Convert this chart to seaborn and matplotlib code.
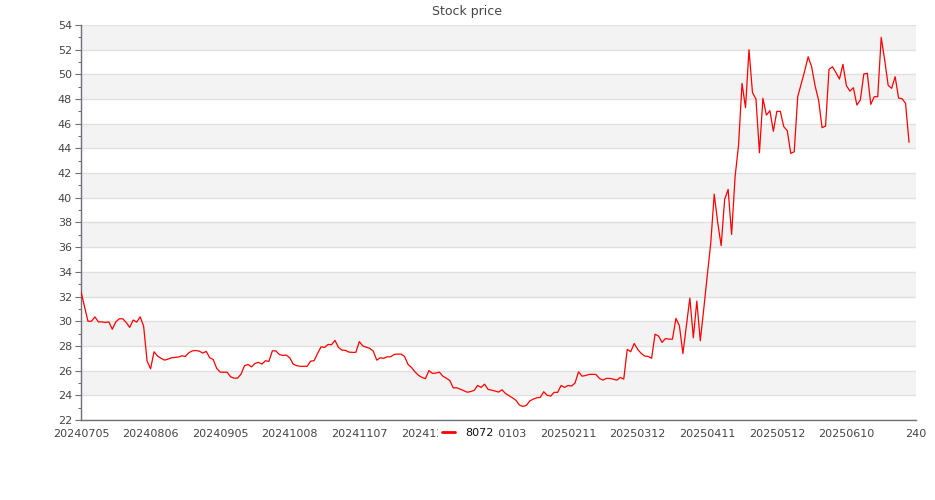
import matplotlib
matplotlib.use('Agg')
import matplotlib.pyplot as plt
import pandas as pd
import seaborn as sns
from matplotlib.ticker import MultipleLocator

title = 'Stock price'
series_name = '8072'

prices = [
    32.4, 31.2, 30.0, 30.0, 30.35, 29.95, 29.95, 29.9, 29.95, 29.35,
    29.95, 30.2, 30.2, 29.9, 29.5, 30.1, 29.93, 30.36, 29.6, 26.77,
    26.15, 27.53, 27.18, 27.0, 26.85, 26.93, 27.04, 27.07, 27.1, 27.2,
    27.15, 27.45, 27.6, 27.63, 27.58, 27.42, 27.56, 27.04, 26.9, 26.18,
    25.88, 25.87, 25.87, 25.5, 25.39, 25.39, 25.72, 26.4, 26.5, 26.3,
    26.58, 26.67, 26.53, 26.8, 26.75, 27.6, 27.6, 27.31, 27.23, 27.26,
    27.04, 26.53, 26.4, 26.35, 26.35, 26.35, 26.77, 26.8, 27.4, 27.93,
    27.88, 28.12, 28.1, 28.45, 27.88, 27.66, 27.64, 27.5, 27.48, 27.48,
    28.35, 28.0, 27.9, 27.8, 27.58, 26.85, 27.04, 27.0, 27.12, 27.12,
    27.31, 27.34, 27.34, 27.15, 26.5, 26.25, 25.9, 25.62, 25.45, 25.35,
    26.0, 25.78, 25.8, 25.88, 25.55, 25.39, 25.2, 24.6, 24.61, 24.5,
    24.38, 24.25, 24.3, 24.4, 24.8, 24.64, 24.9, 24.48, 24.42, 24.35,
    24.26, 24.45, 24.15, 23.98, 23.8, 23.6, 23.22, 23.1, 23.18, 23.55,
    23.69, 23.8, 23.83, 24.29, 24.0, 23.94, 24.24, 24.24, 24.8, 24.64,
    24.8, 24.75, 25.0, 25.9, 25.55, 25.6, 25.69, 25.7, 25.69, 25.37,
    25.23, 25.37, 25.37, 25.31, 25.23, 25.45, 25.31, 27.72, 27.53, 28.2,
    27.72, 27.4, 27.18, 27.15, 27.0, 28.95, 28.8, 28.29, 28.6, 28.55,
    28.55, 30.23, 29.63, 27.38, 29.61, 31.88, 28.66, 31.63, 28.42, 31.0,
    33.7, 36.3, 40.3, 38.0, 36.12, 39.87, 40.68, 37.03, 41.7, 44.28,
    49.27, 47.3, 52.0, 48.52, 48.0, 43.65, 48.06, 46.7, 47.06, 45.39,
    47.0, 47.0, 45.76, 45.44, 43.6, 43.73, 48.19, 49.22, 50.27, 51.43,
    50.62, 49.06, 47.92, 45.68, 45.81, 50.41, 50.62, 50.14, 49.62, 50.81,
    49.08, 48.65, 48.92, 47.52, 47.92, 50.03, 50.09, 47.57, 48.19, 48.19,
    53.0, 51.16, 49.11, 48.87, 49.81, 48.08, 48.03, 47.65, 44.49,
]

tick_labels = [
    '20240705', '20240806', '20240905', '20241008', '20241107', '20241205',
    '20250103', '20250211', '20250312', '20250411', '20250512', '20250610',
    '240',
]

df = pd.DataFrame({'idx': range(len(prices)), 'price': prices})

sns.set_theme(style='white')
plt.rcParams['font.family'] = ['DejaVu Sans']

fig = plt.figure(figsize=(9.35, 5.0), dpi=100)
ax = fig.add_axes([81 / 935, 80 / 500, 835 / 935, 395 / 500])

# alternating background bands
for lo in range(24, 54, 4):
    ax.axhspan(lo, lo + 2, color='#f3f3f3', lw=0, zorder=0)

sns.lineplot(data=df, x='idx', y='price', color='#ff0000', linewidth=0.9,
             label=series_name, ax=ax, legend=False, zorder=3)

ax.set_xlim(0, 240)
ax.set_ylim(22, 54)
ax.yaxis.set_major_locator(MultipleLocator(2))
ax.yaxis.set_minor_locator(MultipleLocator(1))
ax.set_xticks(range(0, 20 * len(tick_labels), 20))
ax.set_xticklabels(tick_labels)
ax.yaxis.grid(True, color='#e0e0e0', linewidth=1, zorder=1)
ax.xaxis.grid(False)
ax.set_axisbelow(True)
ax.set_xlabel('')
ax.set_ylabel('')

for side in ['top', 'right']:
    ax.spines[side].set_visible(False)
for side in ['left', 'bottom']:
    ax.spines[side].set_color('#6e7079')
    ax.spines[side].set_linewidth(1)

ax.tick_params(axis='y', which='major', length=4, width=0.8, color='#6e7079',
               labelsize=8, labelcolor='#444444', pad=2.5, left=True)
ax.tick_params(axis='y', which='minor', length=2.5, width=0.8, color='#6e7079', left=True)
ax.tick_params(axis='x', length=0, labelsize=8, labelcolor='#444444', pad=6.5)

fig.text(0.5, 1 - 12 / 500, title, ha='center', va='center', fontsize=9, color='#464646')

handles, labels = ax.get_legend_handles_labels()
leg = fig.legend(handles, labels, loc='center', bbox_to_anchor=(0.5, 1 - 433 / 500),
                 frameon=True, fontsize=8, handlelength=1.2, handletextpad=0.9,
                 borderpad=0.3, borderaxespad=0)
leg.get_frame().set_facecolor('white')
leg.get_frame().set_edgecolor('none')
leg.get_frame().set_alpha(1)
for text in leg.get_texts():
    text.set_color('#111111')
for line in leg.get_lines():
    line.set_linewidth(2)

fig.savefig('out.png', dpi=100)
